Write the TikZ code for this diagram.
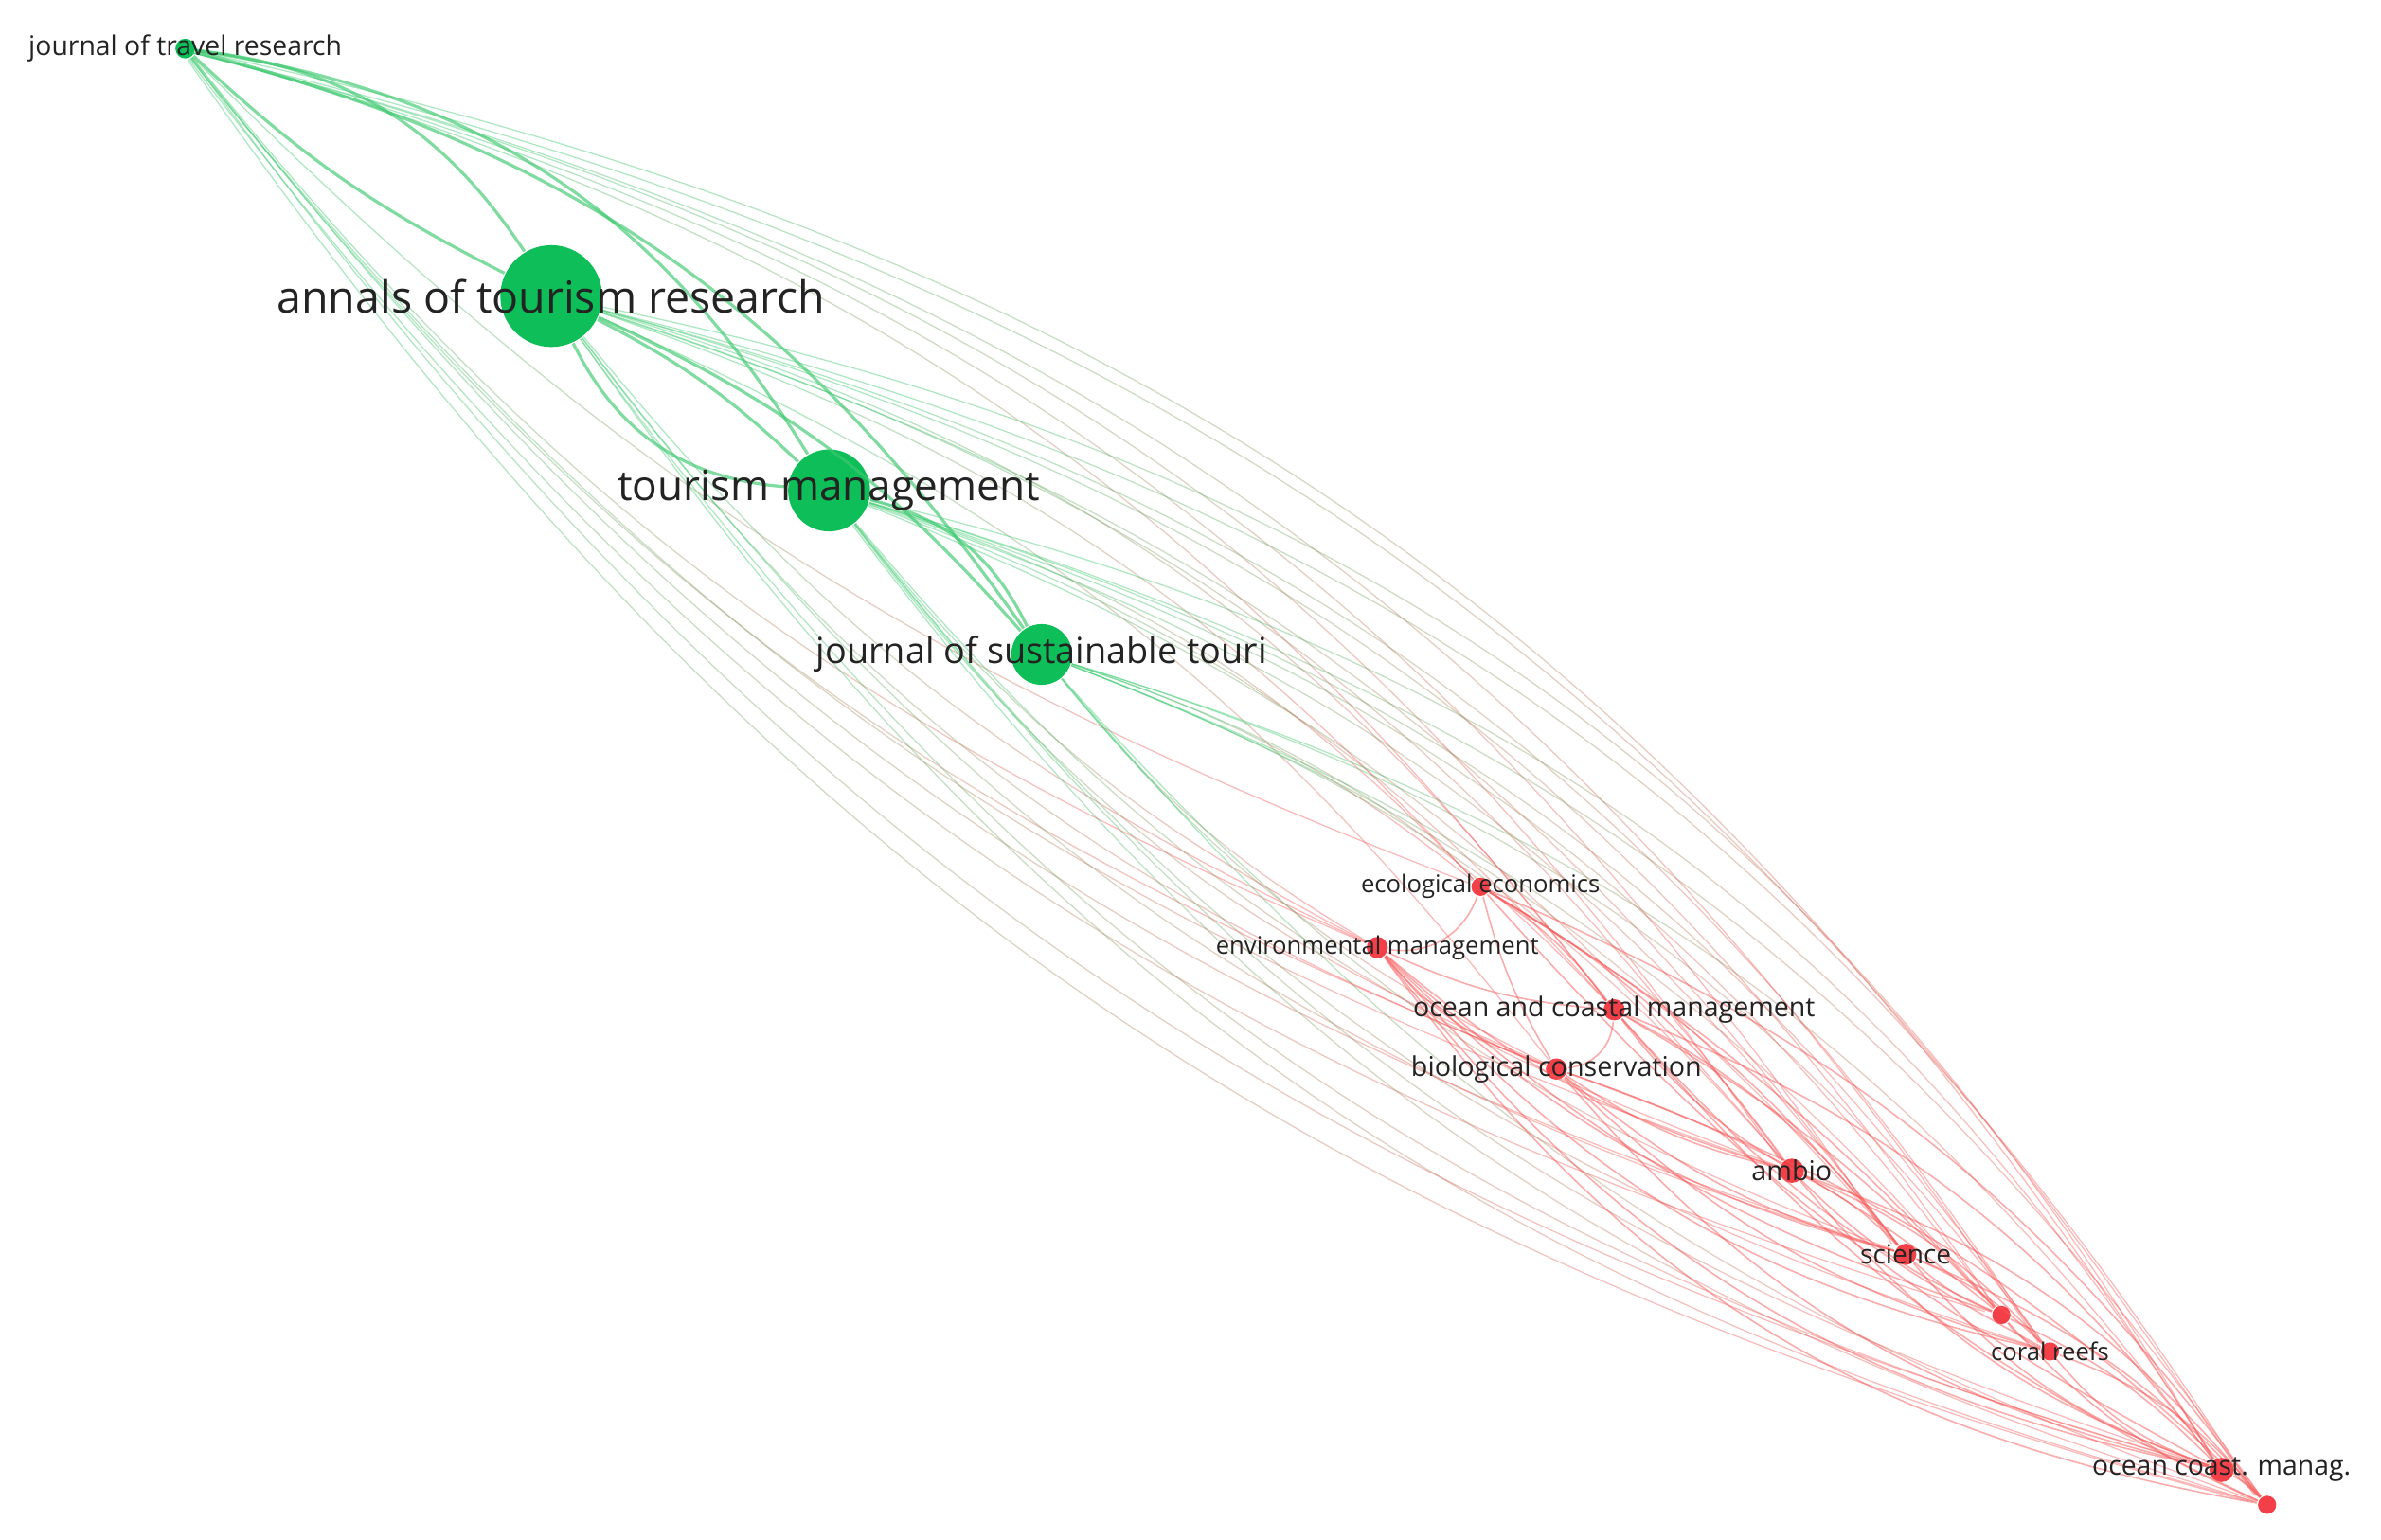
\documentclass[tikz,border=0pt]{standalone}
\usepackage{fontspec}
\setmainfont{Open Sans}
\usetikzlibrary{fadings}
\definecolor{vg}{RGB}{14,190,88}
\definecolor{vr}{RGB}{243,64,72}
\definecolor{eg}{RGB}{60,200,110}
\definecolor{er}{RGB}{246,88,88}
\definecolor{tx}{RGB}{35,35,35}
\newcommand\labfs[1]{\fontsize{#1}{#1}\selectfont}
\tikzfading[name=fadeA, left color=transparent!0, right color=transparent!100]
\tikzfading[name=fadeB, left color=transparent!100, right color=transparent!0]
\begin{document}
\begin{tikzpicture}[x=0.25pt,y=-0.25pt,
  gnode/.style={circle,fill=vg,inner sep=0pt,minimum size=#1},
  rnode/.style={circle,fill=vr,inner sep=0pt,minimum size=#1},
  lbl/.style={inner sep=0pt,text=tx},
  gg/.style={draw=eg,draw opacity=0.65,line width=0.5pt},
  gxg/.style={draw=eg,draw opacity=0.42,line width=0.2pt,path fading=fadeA},
  gxr/.style={draw=er,draw opacity=0.42,line width=0.2pt,path fading=fadeB},
  rr/.style={draw=er,draw opacity=0.5,line width=0.25pt}]
\useasboundingbox (0,0) rectangle (1568,1014);
% nodes
\node[gnode=3.25pt] (jtr) at (122,32) {};
\node[gnode=16.75pt] (atr) at (363,195) {};
\node[gnode=13.5pt] (tm) at (546,323) {};
\node[gnode=10pt] (jst) at (686,431) {};
\node[rnode=3pt] (ee) at (975,584) {};
\node[rnode=3.5pt] (em) at (907,624) {};
\node[rnode=3.5pt] (ocm) at (1063,665) {};
\node[rnode=3.5pt] (bc) at (1025,704) {};
\node[rnode=4pt] (amb) at (1180,771) {};
\node[rnode=3.5pt] (sci) at (1255,826) {};
\node[rnode=3pt] (n1) at (1318,866) {};
\node[rnode=3pt] (cr) at (1350,890) {};
\node[rnode=4pt] (ocg) at (1463,968) {};
\node[rnode=3pt] (n2) at (1493,991) {};
% green-green edges
\foreach \a/\b/\k in {jtr/atr/25,jtr/tm/25,jtr/jst/20,atr/tm/-30,atr/jst/12,tm/jst/25,jtr/atr/-8,atr/tm/8}
  \draw[gg] (\a) to[bend left=\k] (\b);
% cross edges (green end fading into red end)
\foreach \a/\b/\k in {
  jtr/ocg/23,jtr/n2/22,jtr/cr/21,jtr/sci/21,jtr/amb/20,jtr/ocm/18,
  jtr/ee/-12,jtr/em/-14,jtr/bc/-15,jtr/amb/-16,jtr/sci/-17,jtr/n1/-18,jtr/ocg/-19,jtr/n2/-20,
  atr/ocg/24,atr/n2/22,atr/cr/21,atr/sci/18,atr/amb/18,atr/ocm/18,atr/bc/14,atr/ee/14,atr/n1/20,
  atr/em/-13,atr/bc/-16,atr/ocg/-19,atr/n2/-20,atr/sci/-18,
  tm/ocg/22,tm/n2/19,tm/cr/19,tm/sci/17,tm/amb/14,tm/ocm/14,tm/ee/14,tm/n1/18,
  tm/em/-12,tm/bc/-15,tm/amb/-15,tm/n2/-18,tm/ocg/-17,tm/cr/-17,
  jst/ocg/18,jst/cr/18,jst/amb/14,jst/ocm/14,jst/ee/10,jst/sci/14,jst/n1/14,
  jst/em/-10,jst/bc/-12,jst/n2/-15,jst/sci/-14}{
  \pgfmathanglebetweenpoints{\pgfpointanchor{\a}{center}}{\pgfpointanchor{\b}{center}}
  \let\eang\pgfmathresult
  \draw[gxg,fading angle=\eang] (\a) to[bend left=\k] (\b);
  \draw[gxr,fading angle=\eang] (\a) to[bend left=\k] (\b);
}
% red-red edges
\foreach \a/\b/\k in {
  ee/em/40,ocm/bc/40,
  em/ocm/-10,em/bc/-15,em/amb/-12,em/sci/-15,em/n1/-12,em/cr/-18,em/ocg/-20,em/n2/-22,
  ee/ocm/10,ee/bc/-8,ee/amb/12,ee/sci/10,ee/n1/8,ee/ocg/-10,ee/n2/15,
  ocm/amb/-10,ocm/sci/12,ocm/n1/8,ocm/cr/-10,ocm/ocg/15,ocm/n2/-12,
  bc/amb/-10,bc/sci/-12,bc/n1/10,bc/cr/-14,bc/ocg/-18,bc/n2/12,
  amb/sci/10,amb/n1/-10,amb/cr/12,amb/ocg/-15,amb/n2/15,
  sci/n1/-10,sci/cr/10,sci/ocg/-15,sci/n2/12,
  n1/cr/-15,n1/ocg/10,n1/n2/-12,cr/ocg/-15,cr/n2/15,ocg/n2/10}
  \draw[rr] (\a) to[bend left=\k] (\b);
% labels
\node[lbl,font=\labfs{4.425}] (l-jtr) at (jtr) {journal of travel research};
\node[lbl,font=\labfs{7.25}] (l-atr) at (atr) {annals of tourism research};
\node[lbl,font=\labfs{6.875}] (l-tm) at (tm) {tourism management};
\node[lbl,font=\labfs{5.9}] (l-jst) at (jst) {journal of sustainable touri};
\node[lbl,font=\labfs{4}] (l-ee) at (ee) {ecological economics};
\node[lbl,font=\labfs{4}] (l-em) at (em) {environmental management};
\node[lbl,font=\labfs{4.45}] (l-ocm) at (ocm) {ocean and coastal management};
\node[lbl,font=\labfs{4.475}] (l-bc) at (bc) {biological conservation};
\node[lbl,font=\labfs{4.475}] (l-amb) at (amb) {ambio};
\node[lbl,font=\labfs{4.375}] (l-sci) at (sci) {science};
\node[lbl,font=\labfs{4}] (l-cr) at (cr) {coral reefs};
\node[lbl,font=\labfs{4.425}] (l-ocg) at (ocg) {ocean coast. manag.};
\end{tikzpicture}
\end{document}
